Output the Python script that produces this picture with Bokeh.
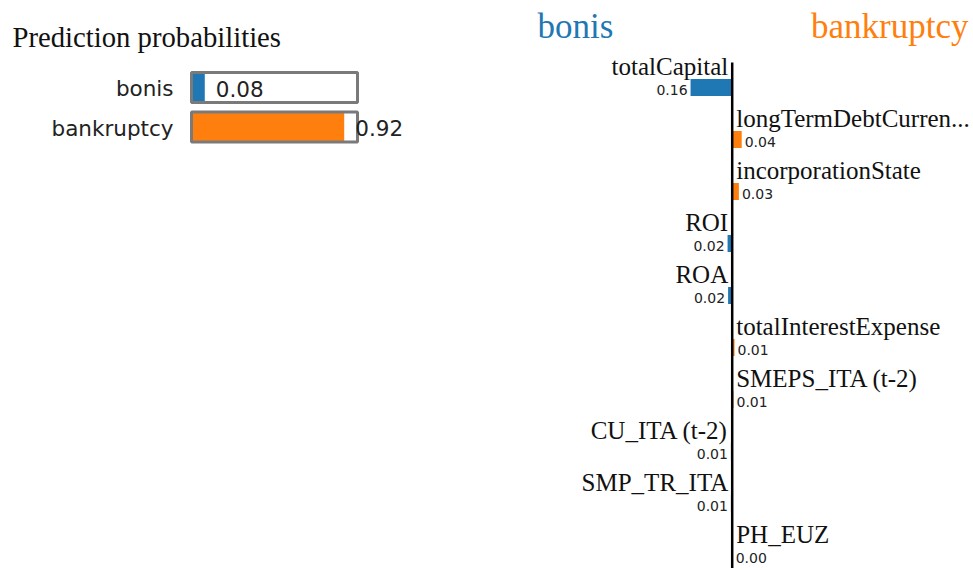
from bokeh.plotting import figure
from bokeh.models import Range1d, ColumnDataSource, Label
from bokeh.core.properties import value
from bokeh.embed import file_html
from bokeh.resources import INLINE

# ---- data ----
classes = ["bonis", "bankruptcy"]
probabilities = [0.08, 0.92]
class_colors = ["#1f77b4", "#ff7f0e"]

features = ["totalCapital", "longTermDebtCurren...", "incorporationState", "ROI", "ROA",
            "totalInterestExpense", "SMEPS_ITA (t-2)", "CU_ITA (t-2)", "SMP_TR_ITA", "PH_EUZ"]
weights = [-0.162, 0.037, 0.026, -0.018, -0.016, 0.009, 0.005, -0.005, -0.005, 0.002]

# ---- layout constants (pixels inside the figure) ----
W, H = 970, 568
SERIF = value("Liberation Serif")
SANS = value("DejaVu Sans")

# probability panel: p=0 at x 191, 166 px per unit; row 0 centre at y 87, 39.5 px per row
PX0, PSCALE = 191.0, 166.0
PY0, PPITCH = 87.0, 39.5
# explanation panel: weight 0 at x 731.7, 257 px per unit; row 0 centre at y 87, 52 px per row
AX0, ASCALE = 731.7, 257.0
RY0, RPITCH = 87.0, 52.0

p = figure(width=W, height=H, output_backend="svg", toolbar_location=None,
           x_range=Range1d(-AX0 / ASCALE, (W - AX0) / ASCALE),
           y_range=Range1d((H - RY0) / RPITCH, -RY0 / RPITCH),
           x_axis_location=None, y_axis_location=None, min_border=0,
           outline_line_color=None, background_fill_color="white", border_fill_color="white")
p.grid.visible = False
p.extra_x_ranges = {"prob": Range1d(-PX0 / PSCALE, (W - PX0) / PSCALE)}
p.extra_y_ranges = {"prow": Range1d((H - PY0) / PPITCH, -PY0 / PPITCH)}

# ---- prediction probabilities ----
p.add_layout(Label(x=12, y=H - 36, x_units="screen", y_units="screen", text="Prediction probabilities",
                   text_font="Liberation Serif", text_font_size="28.7px", text_color="#111111",
                   text_baseline="alphabetic"))
rows = list(range(len(classes)))
psrc = ColumnDataSource(dict(y=rows, cls=classes, prob=probabilities, color=class_colors,
                             label=[f"{v:.2f}" for v in probabilities]))
p.hbar(y="y", left=0, right="prob", height=32 / PPITCH, fill_color="color", line_color=None,
       source=psrc, x_range_name="prob", y_range_name="prow")
p.hbar(y="y", left=0, right=1, height=30 / PPITCH, fill_color=None, line_color="#7a7a7a",
       line_width=3, source=psrc, x_range_name="prob", y_range_name="prow")
p.text(x=0, y="y", text="cls", source=psrc, x_range_name="prob", y_range_name="prow",
       text_font=SANS, text_font_size=value("21.5px"), text_align="right", text_baseline="middle",
       x_offset=-18, y_offset=1, text_color="#222222")
p.text(x="prob", y="y", text="label", source=psrc, x_range_name="prob", y_range_name="prow",
       text_font=SANS, text_font_size=value("21.5px"), text_align="left", text_baseline="middle",
       x_offset=11, y_offset=1, text_color="#222222")

# ---- explanation ----
p.add_layout(Label(x=537, y=H - 26, x_units="screen", y_units="screen", text=classes[0],
                   text_font="Liberation Serif", text_font_size="35px", text_color=class_colors[0],
                   text_baseline="alphabetic"))
p.add_layout(Label(x=968, y=H - 26, x_units="screen", y_units="screen", text=classes[1],
                   text_font="Liberation Serif", text_font_size="35px", text_color=class_colors[1],
                   text_baseline="alphabetic", text_align="right"))

idx = list(range(len(features)))
neg = [w < 0 for w in weights]
fsrc = ColumnDataSource(dict(
    y=idx, name=features,
    left=[min(w, 0) for w in weights], right=[max(w, 0) for w in weights],
    color=[class_colors[0] if n else class_colors[1] for n in neg],
))
p.hbar(y="y", left="left", right="right", height=17 / RPITCH, fill_color="color",
       line_color=None, source=fsrc)

neg_idx = [i for i in idx if neg[i]]
pos_idx = [i for i in idx if not neg[i]]
nsrc = ColumnDataSource(dict(y=neg_idx, name=[features[i] for i in neg_idx],
                             end=[weights[i] for i in neg_idx],
                             label=[f"{abs(weights[i]):.2f}" for i in neg_idx]))
psrc2 = ColumnDataSource(dict(y=pos_idx, name=[features[i] for i in pos_idx],
                              end=[weights[i] for i in pos_idx],
                              label=[f"{abs(weights[i]):.2f}" for i in pos_idx]))

p.text(x=0, y="y", text="name", source=nsrc, text_font=SERIF, text_font_size=value("25px"),
       text_align="right", text_baseline="alphabetic", x_offset=-4, y_offset=-21,
       text_color="#111111")
p.text(x=0, y="y", text="name", source=psrc2, text_font=SERIF, text_font_size=value("25px"),
       text_align="left", text_baseline="alphabetic", x_offset=4, y_offset=-21,
       text_color="#111111")
p.text(x="end", y="y", text="label", source=nsrc, text_font=SANS, text_font_size=value("14px"),
       text_align="right", text_baseline="alphabetic", x_offset=-3, y_offset=2,
       text_color="#222222")
p.text(x="end", y="y", text="label", source=psrc2, text_font=SANS, text_font_size=value("14px"),
       text_align="left", text_baseline="alphabetic", x_offset=3, y_offset=2,
       text_color="#222222")

# vertical zero line
p.segment(x0=0, y0=-0.48, x1=0, y1=len(features), line_color="black", line_width=2.5)

open("out.html", "w").write(file_html(p, INLINE))
